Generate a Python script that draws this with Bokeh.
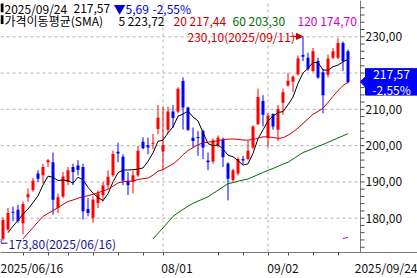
import numpy as np
from bokeh.plotting import figure
from bokeh.models import Range1d, FixedTicker, Label, Arrow, NormalHead, ColumnDataSource
from bokeh.core.properties import value
from bokeh.embed import file_html
from bokeh.resources import INLINE

# ---- data ----
opens = [174.3, 176.9, 181.8, 182.3, 178.6, 185.8, 187.8, 192.3, 191.8, 195.4,
         195.4, 182.8, 186.0, 190.0, 194.1, 194.5, 194.1, 182.5, 180.1, 184.2,
         186.3, 189.1, 191.8, 198.3, 196.9, 190.3, 190.0, 191.8, 201.1, 200.1,
         200.5, 204.6, 198.4, 204.4, 209.4, 209.4, 217.8, 210.5, 202.2, 202.4,
         204.0, 195.9, 195.6, 200.0, 201.7, 195.1, 190.5, 192.3, 196.3, 196.3,
         199.5, 205.9, 212.3, 202.2, 208.7, 204.4, 211.8, 216.6, 217.6, 219.7,
         225.0, 224.2, 220.6, 223.3, 220.2, 219.5, 224.2, 224.2, 228.3, 226.0]
highs = [180.2, 182.8, 183.2, 183.7, 184.6, 188.2, 191.1, 193.2, 195.0, 196.3,
         198.1, 186.8, 192.7, 194.1, 195.0, 196.0, 195.0, 185.5, 186.0, 187.7,
         190.0, 193.2, 198.6, 200.8, 197.6, 192.7, 193.1, 199.9, 202.3, 202.2,
         203.2, 211.2, 210.7, 210.7, 211.2, 216.1, 218.8, 210.7, 205.0, 204.0,
         204.4, 198.1, 202.0, 202.8, 202.2, 195.4, 193.6, 196.8, 197.2, 201.3,
         205.6, 215.7, 213.9, 208.9, 208.9, 211.2, 215.7, 220.0, 219.3, 224.8,
         230.1, 225.6, 226.9, 224.2, 221.1, 225.1, 226.9, 229.6, 228.7, 226.5]
lows = [173.8, 176.5, 179.2, 178.7, 175.6, 184.5, 187.3, 190.0, 189.6, 194.1,
        181.0, 181.4, 185.5, 189.1, 189.1, 191.8, 179.6, 180.5, 178.7, 182.8,
        184.6, 188.2, 191.4, 195.4, 189.1, 186.4, 186.8, 191.4, 199.0, 197.6,
        199.0, 203.1, 193.2, 203.5, 204.9, 208.9, 204.4, 204.0, 199.5, 197.2,
        196.3, 193.2, 195.0, 199.5, 194.1, 184.9, 190.0, 191.8, 194.9, 195.9,
        199.0, 205.8, 205.3, 199.5, 204.4, 201.3, 208.5, 216.2, 214.8, 219.3,
        223.3, 220.6, 220.2, 218.4, 208.9, 218.8, 223.8, 223.8, 220.6, 217.1]
closes = [179.5, 181.4, 181.5, 179.2, 183.9, 186.6, 190.3, 190.9, 194.1, 196.0,
          185.1, 185.8, 191.5, 193.2, 192.7, 193.3, 181.9, 181.4, 185.1, 186.8,
          189.0, 191.4, 197.7, 197.8, 190.4, 189.1, 191.8, 198.6, 199.3, 199.5,
          200.8, 207.7, 200.2, 209.4, 207.6, 215.7, 210.5, 204.4, 201.3, 202.2,
          199.5, 195.4, 201.5, 202.2, 196.8, 190.9, 193.2, 196.3, 195.9, 198.6,
          205.3, 213.4, 208.5, 208.3, 205.3, 210.1, 214.7, 217.9, 219.0, 224.0,
          224.5, 221.1, 226.0, 218.8, 213.9, 224.0, 226.0, 228.3, 223.26, 217.57]

# moving-average values before enough bars are on screen
sma5_lead = [None, 176.0, 177.8, 179.4]                      # bars 0..3
sma20_lead = [None, None, None, None, 174.3, 175.9, 177.4, 179.0, 180.5, 181.3,
              182.1, 182.9, 183.8, 184.6, 185.0, 185.5, 185.9, 186.2, 186.6]  # bars 0..18
sma60_start = 30
sma60 = [174.3, 175.8, 177.3, 178.9, 180.5, 181.5, 182.4, 183.3, 184.1, 184.7,
         185.3, 185.9, 186.8, 187.7, 188.6, 189.5, 189.8, 190.2, 190.5, 190.8,
         191.4, 192.0, 192.6, 193.2, 193.7, 194.3, 194.9, 195.4, 196.3, 197.2,
         198.1, 198.6, 199.2, 199.8, 200.3, 200.9, 201.5, 202.1, 202.7, 203.3]
sma120_start = 68
sma120 = [174.4, 174.7]

y_ticks = [180, 190, 200, 210, 220, 230]
y_tick_labels = ["180,00", "190,00", "200,00", "210,00", "220,00", "230,00"]
y_minor = list(range(172, 240, 2))
week_ticks = [4, 9, 13, 18, 23, 28, 32, 43, 48, 53, 57, 62, 67]   # bar indices
month_lines = [32, 53]                                            # 08/01, 09/02
x_label_left = [0, 162, 268, 357]
x_label_text = ["2025/06/16", "08/01", "09/02", "2025/09/24"]

hdr_date, hdr_close, hdr_chg, hdr_pct = "2025/09/24", "217,57", "▼5,69", "-2,55%"
ma_title = "가격이동평균(SMA)"
ma_texts = ["5 223,72", "20 217,44", "60 203,30", "120 174,70"]
hi_text, lo_text = "230,10(2025/09/11)", "173,80(2025/06/16)"
hi_idx, lo_idx = 60, 0

FONT = "Noto Sans CJK KR"
RED, BLUE = "#ff0000", "#0000ff"
C5, C20, C60, C120 = "#000000", "#cc0000", "#007000", "#cc00cc"
AXC = "#7a7a7a"

n = len(closes)
xs = np.arange(n)
c = np.array(closes)

def sma(period, lead):
    out = np.full(n, np.nan)
    for i in range(period - 1, n):
        out[i] = c[i - period + 1:i + 1].mean()
    for i, v in enumerate(lead):
        out[i] = np.nan if v is None else v
    return out

s5 = sma(5, sma5_lead)
s20 = sma(20, sma20_lead)

# pixel helpers (frame spans the full 417 px width, 257 px height; bars every 5 px)
def X(px):
    return (px - 2.5) / 5.0

def Y(py):
    return 240.0 - py / 3.7

p = figure(width=417, height=278, output_backend="svg", toolbar_location=None,
           x_range=Range1d(X(0), X(417)), y_range=Range1d(Y(257), Y(0)),
           y_axis_location="right", min_border_left=0, min_border_right=0,
           min_border_top=0, min_border_bottom=21)
p.outline_line_color = None
p.background_fill_color = "white"
p.border_fill_color = "white"
p.xgrid.visible = False
p.ygrid.visible = False

price_edge = X(360)   # price-axis line position

# dashed grid, limited to the price area
p.segment(x0=[X(0)] * len(y_ticks), x1=[price_edge] * len(y_ticks), y0=y_ticks, y1=y_ticks,
          line_color="#b4b4b4", line_dash="3 3", line_width=1)
p.segment(x0=month_lines, x1=month_lines, y0=[Y(257)] * 2, y1=[Y(0)] * 2,
          line_color="#b4b4b4", line_dash="3 3", line_width=1)

# price axis: labels by the library axis (pulled in next to the price-axis line)
ya = p.yaxis[0]
ya.ticker = FixedTicker(ticks=y_ticks)
ya.major_label_overrides = {t: ("" if t == 220 else l) for t, l in zip(y_ticks, y_tick_labels)}
ya.axis_line_color = None
ya.major_tick_line_color = None
ya.minor_tick_line_color = None
ya.major_tick_out = 0
ya.major_tick_in = 0
ya.major_label_standoff = -52
ya.major_label_text_font = FONT
ya.major_label_text_font_size = "12px"
ya.major_label_text_color = "#111111"
# axis line and tick marks
p.segment(x0=[price_edge], x1=[price_edge], y0=[Y(257)], y1=[Y(0)], line_color=AXC, line_width=1)
p.segment(x0=[price_edge] * len(y_minor), x1=[X(364)] * len(y_minor), y0=y_minor, y1=y_minor,
          line_color="#4a4a4a", line_width=1)

# x axis (below)
xa = p.xaxis[0]
approx_w = [62, 29, 29, 62]
lab_ticks = [X(left + w / 2) for left, w in zip(x_label_left, approx_w)]
xa.ticker = FixedTicker(ticks=lab_ticks, minor_ticks=week_ticks)
xa.major_label_overrides = {pos: t for pos, t in zip(lab_ticks, x_label_text)}
xa.axis_line_color = AXC
xa.major_tick_out = 0
xa.major_tick_in = 0
xa.major_tick_line_color = None
xa.minor_tick_line_color = "#4a4a4a"
xa.minor_tick_out = 3
xa.minor_tick_in = 0
xa.major_label_standoff = 3
xa.major_label_text_font = FONT
xa.major_label_text_font_size = "12px"
xa.major_label_text_color = "#111111"

# candles
o = np.array(opens)
up = c >= o
colors = [RED if u else BLUE for u in up]
one_px = 1 / 3.7
top = np.maximum(o, c)
bot = np.minimum(top - one_px, np.minimum(o, c))
src = ColumnDataSource(dict(x=xs, h=highs, l=lows, top=top, bot=bot, col=colors))
p.segment(x0="x", y0="h", x1="x", y1="l", color="col", line_width=1, source=src)
p.vbar(x="x", top="top", bottom="bot", width=0.6, fill_color="col", line_color=None, source=src)

# moving averages
p.line(xs, s5, line_color=C5, line_width=1)
p.line(xs, s20, line_color=C20, line_width=1)
p.line(np.arange(sma60_start, sma60_start + len(sma60)), sma60, line_color=C60, line_width=1)
p.line(np.arange(sma120_start, sma120_start + len(sma120)), sma120, line_color=C120, line_width=1)

# high / low annotations
p.add_layout(Label(x=X(187), y=highs[hi_idx], text=hi_text, text_font=FONT,
                   text_font_size="12px", text_color=C20, text_baseline="middle"))
p.add_layout(Arrow(x_start=X(290), y_start=highs[hi_idx], x_end=hi_idx - 0.1, y_end=highs[hi_idx],
                   line_color=C20, line_width=1,
                   end=NormalHead(size=6, fill_color=C20, line_color=C20)))
p.add_layout(Label(x=X(8), y=lows[lo_idx] - 0.8, text=lo_text, text_font=FONT,
                   text_font_size="12px", text_color="#141496", text_baseline="middle"))
p.line([lo_idx - 0.4, lo_idx - 0.4, lo_idx + 0.9], [lows[lo_idx] + 0.5, lows[lo_idx] - 0.7, lows[lo_idx] - 0.7],
       line_color="#141496", line_width=1)

# header
p.quad(left=[X(0), X(0)], right=[X(3), X(3)], top=[Y(3), Y(15)], bottom=[Y(12), Y(24)],
       fill_color="black", line_color=None)
hdr = [(4, 8, hdr_date, "black"), (73, 8, hdr_close, "black"),
       (113, 8, hdr_chg, "#0000cc"), (152, 8, hdr_pct, "#0000cc"),
       (4, 20, ma_title, "black"), (118, 20, ma_texts[0], "black"),
       (173, 20, ma_texts[1], C20), (232, 20, ma_texts[2], C60),
       (297, 20, ma_texts[3], C120)]
for px, py, t, col in hdr:
    p.add_layout(Label(x=X(px), y=Y(py), text=t, text_font=FONT, text_font_size="12px",
                       text_color=col, text_baseline="middle"))

# last price tag next to the price axis
last = closes[-1]
tag_half = 13.5 / 3.7
p.quad(left=[X(365)], right=[X(417)], top=[last + tag_half], bottom=[last - tag_half],
       fill_color=BLUE, line_color=BLUE)
p.patch(x=[X(360), X(365.5), X(365.5)], y=[last, last + 1.6, last - 1.6],
        fill_color=BLUE, line_color=BLUE)
p.text(x=[X(391), X(391)], y=[last + tag_half / 2 + 0.15, last - tag_half / 2 - 0.15],
       text=[hdr_close, hdr_pct], text_color="white", text_font=value(FONT),
       text_font_size="12px", text_align="center", text_baseline="middle")

open("out.html", "w").write(file_html(p, INLINE))
